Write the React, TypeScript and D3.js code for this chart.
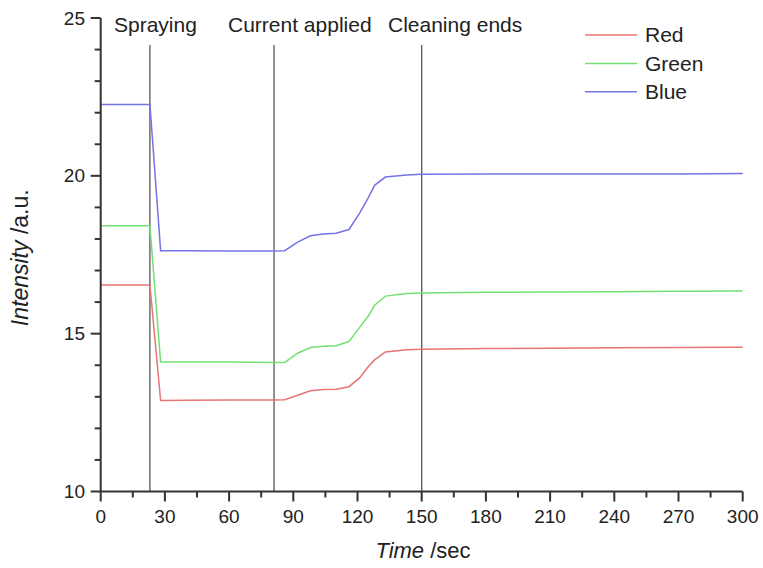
import React from "react";
import * as d3 from "d3";

const times = [0, 23, 28, 40, 60, 80, 86, 92, 98, 104, 110, 116, 121, 125, 128, 133, 143, 150, 180, 210, 240, 270, 300];
const redValues = [16.54, 16.54, 12.88, 12.89, 12.9, 12.9, 12.91, 13.05, 13.19, 13.23, 13.24, 13.32, 13.6, 13.95, 14.17, 14.42, 14.49, 14.51, 14.53, 14.54, 14.55, 14.56, 14.57];
const greenValues = [18.42, 18.42, 14.1, 14.1, 14.1, 14.09, 14.09, 14.38, 14.56, 14.6, 14.62, 14.75, 15.2, 15.55, 15.9, 16.19, 16.27, 16.29, 16.31, 16.32, 16.33, 16.34, 16.35];
const blueValues = [22.26, 22.26, 17.63, 17.63, 17.62, 17.62, 17.63, 17.9, 18.1, 18.16, 18.18, 18.3, 18.82, 19.3, 19.7, 19.96, 20.03, 20.05, 20.06, 20.06, 20.06, 20.06, 20.07];
const seriesNames = ["Red", "Green", "Blue"];
const seriesColors = ["#e87474", "#74e074", "#7474e4"];
const events = [
  { t: 23, label: "Spraying" },
  { t: 81, label: "Current applied" },
  { t: 150, label: "Cleaning ends" },
];
const xTicks = [0, 30, 60, 90, 120, 150, 180, 210, 240, 270, 300];
const yTicks = [10, 15, 20, 25];

export default function App() {
  const W = 763, H = 568;
  const x = d3.scaleLinear().domain([0, 300]).range([100.7, 742.7]);
  const y = d3.scaleLinear().domain([10, 25]).range([491.5, 18]);
  const allSeries = [redValues, greenValues, blueValues];
  const line = d3
    .line<number>()
    .x((_, i) => x(times[i]))
    .y((v) => y(v));
  const xMinor = d3.range(15, 300, 30);
  const yMinor = d3.range(10, 25, 1).filter((v) => v % 5 !== 0);
  const font = "Liberation Sans, Arial, sans-serif";
  const axisColor = "#333";
  return (
    <svg
      width={W}
      height={H}
      style={{ position: "absolute", left: 0, top: 0, background: "#fff" }}
      fontFamily={font}
    >
      {/* event lines */}
      {events.map((e) => (
        <g key={e.label}>
          <line x1={x(e.t)} x2={x(e.t)} y1={45} y2={y(10)} stroke="#555" strokeWidth={1.3} />
        </g>
      ))}
      <text x={114} y={31.5} fontSize={21} fill="#222">Spraying</text>
      <text x={228} y={31.5} fontSize={21} fill="#222">Current applied</text>
      <text x={388} y={31.5} fontSize={21} fill="#222">Cleaning ends</text>
      {/* data */}
      {allSeries.map((s, i) => (
        <path key={i} d={line(s) || ""} fill="none" stroke={seriesColors[i]} strokeWidth={1.5} />
      ))}
      {/* axes */}
      <line x1={x(0)} x2={x(0)} y1={y(25)} y2={y(10)} stroke={axisColor} strokeWidth={2} />
      <line x1={x(0) - 1} x2={x(300)} y1={y(10)} y2={y(10)} stroke={axisColor} strokeWidth={2} />
      {yTicks.map((v) => (
        <g key={"y" + v}>
          <line x1={x(0) - 10} x2={x(0)} y1={y(v)} y2={y(v)} stroke={axisColor} strokeWidth={2} />
          <text x={85} y={y(v)} dy="0.35em" textAnchor="end" fontSize={19} fill="#222">{v}</text>
        </g>
      ))}
      {yMinor.map((v) => (
        <line key={"ym" + v} x1={x(0) - 6} x2={x(0)} y1={y(v)} y2={y(v)} stroke={axisColor} strokeWidth={2} />
      ))}
      {xTicks.map((t) => (
        <g key={"x" + t}>
          <line x1={x(t)} x2={x(t)} y1={y(10)} y2={y(10) + 10} stroke={axisColor} strokeWidth={2} />
          <text x={x(t)} y={522.5} textAnchor="middle" fontSize={19} fill="#222">{t}</text>
        </g>
      ))}
      {xMinor.map((t) => (
        <line key={"xm" + t} x1={x(t)} x2={x(t)} y1={y(10)} y2={y(10) + 6} stroke={axisColor} strokeWidth={2} />
      ))}
      {/* axis titles */}
      <text x={423} y={558} textAnchor="middle" fontSize={22} fill="#222">
        <tspan fontStyle="italic">Time</tspan>
        <tspan> /sec</tspan>
      </text>
      <text
        transform={`translate(28, ${(y(25) + y(10)) / 2 + 3}) rotate(-90)`}
        textAnchor="middle"
        fontSize={23}
        fill="#222"
      >
        <tspan fontStyle="italic">Intensity</tspan>
        <tspan> /a.u.</tspan>
      </text>
      {/* legend */}
      {seriesNames.map((n, i) => (
        <g key={n}>
          <line x1={585} x2={637} y1={35 + i * 28.4} y2={35 + i * 28.4} stroke={seriesColors[i]} strokeWidth={1.5} />
          <text x={645} y={35 + i * 28.4} dy="0.35em" fontSize={21} fill="#222">{n}</text>
        </g>
      ))}
    </svg>
  );
}
